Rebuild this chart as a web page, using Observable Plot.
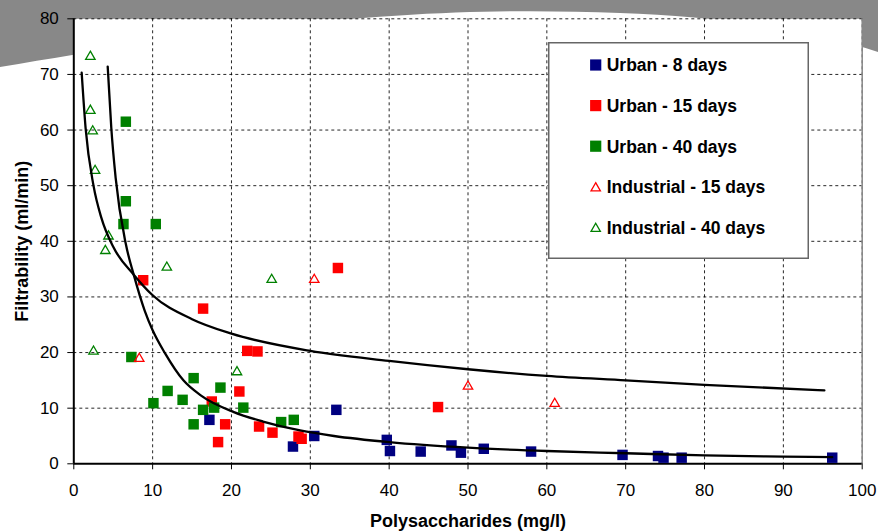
<!DOCTYPE html>
<html><head><meta charset="utf-8">
<script src="https://cdn.jsdelivr.net/npm/d3@7"></script>
<script src="https://cdn.jsdelivr.net/npm/@observablehq/plot@0.6"></script>
<style>
html,body{margin:0;padding:0;background:#fff;}
#wrap{position:relative;width:878px;height:531px;font-family:"Liberation Sans",Arial,sans-serif;overflow:hidden;}
#deco,#chart,#legend{position:absolute;left:0;top:0;}
#legend{left:548px;top:42px;}
</style></head><body>
<div id="wrap">
<svg id="deco" width="878" height="531"><path d="M0,0 H878 V52 C820,32 720,16 620,13 C480,8 330,10 0,67 Z" fill="#888888"/></svg>
<div id="chart"></div>
<svg id="legend" width="262" height="218"></svg>
</div>
<script>
const xTicks = [0,10,20,30,40,50,60,70,80,90,100];
const yTicks = [0,10,20,30,40,50,60,70,80];
const xTitle = "Polysaccharides (mg/l)";
const yTitle = "Filtrability (ml/min)";
const seriesNames = ["Urban - 8 days","Urban - 15 days","Urban - 40 days","Industrial - 15 days","Industrial - 40 days"];
const seriesColors = ["#000080","#ff0000","#008000","#ff0000","#008000"];
const seriesSymbols = ["square","square","square","triangle","triangle"];

const urban8 = [[17.2,7.9],[27.8,3.1],[30.5,5.0],[33.3,9.7],[39.7,4.3],[40.1,2.3],[44.0,2.2],[47.9,3.3],[49.1,2.0],[52.0,2.7],[58.0,2.2],[69.6,1.6],[74.1,1.4],[74.8,1.1],[77.1,1.1],[96.2,1.1]];
const urban15 = [[8.8,33.0],[16.4,27.9],[22.0,20.3],[23.3,20.2],[21.0,13.0],[17.5,11.2],[19.2,7.1],[18.3,3.9],[23.5,6.7],[25.2,5.6],[28.5,4.9],[28.9,4.5],[33.5,35.2],[46.2,10.2]];
const urban40 = [[6.6,61.5],[6.6,47.2],[6.3,43.1],[10.4,43.1],[7.3,19.2],[10.1,10.9],[11.9,13.1],[13.8,11.5],[15.2,15.4],[15.2,7.1],[16.4,9.7],[17.8,10.1],[18.6,13.7],[21.5,10.1],[26.3,7.5],[27.9,7.9]];
const industrial15 = [[8.3,18.9],[30.5,33.1],[50.0,13.9],[61.0,10.8]];
const industrial40 = [[2.1,73.2],[2.1,63.5],[2.4,59.8],[2.7,52.7],[4.4,40.9],[4.0,38.3],[11.8,35.3],[25.1,33.1],[2.5,20.2],[20.7,16.5]];

// trend curves, points
const trendUpper = [[1.0,70.3],[1.5,60.3],[2.5,50.0],[3.5,44.2],[5.0,39.0],[7.6,34.0],[10,30.3],[15,26.0],[20,23.4],[30,20.3],[40,18.5],[50,17.0],[60,15.8],[70,15.0],[80,14.2],[95.2,13.2]];
const trendLower = [[4.3,71.4],[4.75,60.5],[5.3,51.5],[6.6,39.5],[7.6,34.0],[9,27.5],[10,24.0],[11.6,19.8],[13.9,15.0],[16.1,12.3],[20.3,9.3],[24,7.6],[28.7,6.0],[33,5.0],[40,3.9],[50,2.9],[60,2.3],[70,1.9],[80,1.5],[90,1.3],[96.2,1.2]];

const series = [urban8, urban15, urban40, industrial15, industrial40];

const dotMarks = series.map((data, i) => seriesSymbols[i] === "square"
  ? Plot.dot(data, {x: d => d[0], y: d => d[1], symbol: "square", r: 5.9, fill: seriesColors[i], stroke: "none"})
  : Plot.dot(data, {x: d => d[0], y: d => d[1], symbol: "triangle", r: 3.5, fill: "none", stroke: seriesColors[i], strokeWidth: 1.3}));

const chart = Plot.plot({
  width: 878, height: 531,
  marginLeft: 73.3, marginRight: 16.3, marginTop: 18.3, marginBottom: 67.7,
  style: {background: "transparent", fontFamily: "'Liberation Sans', Arial, sans-serif", color: "#000"},
  x: {domain: [0, 100]},
  y: {domain: [0, 80]},
  marks: [
    Plot.frame({fill: "white", stroke: null}),
    Plot.gridX(xTicks.slice(1), {stroke: "#000", strokeOpacity: 0.85, strokeDasharray: "3,3", strokeWidth: 1}),
    Plot.gridY(yTicks.slice(1), {stroke: "#000", strokeOpacity: 0.85, strokeDasharray: "3,3", strokeWidth: 1}),
    Plot.ruleX([100], {stroke: "#888", strokeWidth: 1.5}),
    Plot.axisX({ticks: xTicks, tickSize: 6, tickPadding: 14, fontSize: 17, label: null, tickFormat: d => d}),
    Plot.axisY({ticks: yTicks, tickSize: 6, tickPadding: 9, fontSize: 17, label: null, tickFormat: d => d}),
    Plot.ruleY([0], {stroke: "#000", strokeWidth: 2}),
    Plot.ruleX([0], {stroke: "#000", strokeWidth: 2}),
    ...dotMarks,
    Plot.line(trendUpper, {x: d => d[0], y: d => d[1], curve: "monotone-x", stroke: "#000", strokeWidth: 2.3}),
    Plot.line(trendLower, {x: d => d[0], y: d => d[1], curve: "monotone-x", stroke: "#000", strokeWidth: 2.3}),
    Plot.text([xTitle], {frameAnchor: "bottom", dy: 57, text: d => d, textAnchor: "middle", lineAnchor: "middle", fontWeight: "bold", fontSize: 18}),
    Plot.text([yTitle], {frameAnchor: "left", dx: -51.6, rotate: -90, text: d => d, textAnchor: "middle", lineAnchor: "middle", fontWeight: "bold", fontSize: 18})
  ]
});
document.getElementById("chart").appendChild(chart);

// legend
const lg = d3.select("#legend");
lg.append("rect").attr("x", 0.75).attr("y", 0.75).attr("width", 259.5).attr("height", 215.5)
  .attr("fill", "white").attr("stroke", "#666").attr("stroke-width", 1.5);
const rowY = [23, 63.6, 104.2, 144.8, 185.4];
seriesNames.forEach((name, i) => {
  const cy = rowY[i];
  if (seriesSymbols[i] === "square") {
    lg.append("rect").attr("x", 47.7 - 5.6).attr("y", cy - 5.6).attr("width", 11.2).attr("height", 11.2).attr("fill", seriesColors[i]);
  } else {
    lg.append("path").attr("transform", `translate(47.7,${cy + 1.3})`)
      .attr("d", d3.symbol(d3.symbolTriangle, 38)())
      .attr("fill", "none").attr("stroke", seriesColors[i]).attr("stroke-width", 1.3);
  }
  lg.append("text").attr("x", 58.7).attr("y", cy).attr("dy", "0.36em")
    .attr("font-family", "'Liberation Sans', Arial, sans-serif").attr("font-weight", "bold").attr("font-size", 17.5)
    .attr("fill", "#000").text(name);
});
</script>
</body></html>
